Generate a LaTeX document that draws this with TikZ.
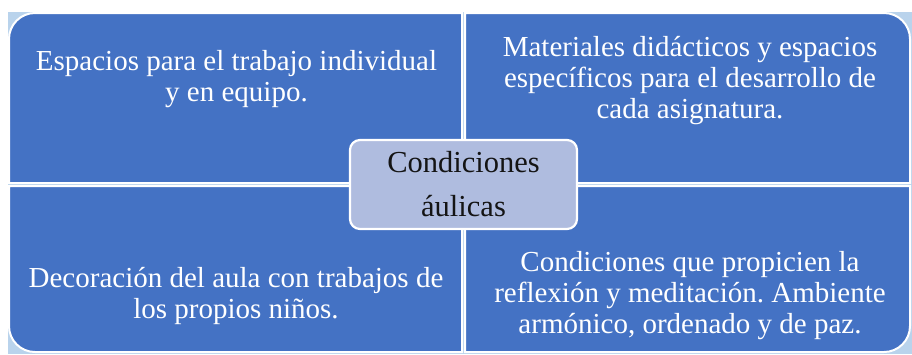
\documentclass[tikz,border=0pt]{standalone}
\usepackage{fontspec}
\setmainfont{Liberation Serif}
\frenchspacing
\definecolor{quadblue}{HTML}{4472C4}
\definecolor{centerfill}{HTML}{AFBCDF}
\definecolor{backlight}{HTML}{B9D3EC}
\definecolor{centertext}{HTML}{141414}
\begin{document}
\begin{tikzpicture}[x=1pt,y=-1pt,
  quad/.style={fill=quadblue,draw=white,line width=2pt},
  quadtext/.style={text=white,align=center,inner sep=0pt,font=\fontsize{29}{31}\selectfont},
  centerbox/.style={draw=white,line width=2.2pt,fill=centerfill,rounded corners=10pt,
    minimum width=227pt,minimum height=89pt,inner sep=0pt,align=center,text=centertext,
    font=\fontsize{30.5}{44}\selectfont}]
\useasboundingbox (0,0) rectangle (912,354);
\fill[backlight] (8,12) rectangle (912,354);
% quadrants
\path[quad] (462,183) -- (462,13) -- (35,13) arc[start angle=270,end angle=180,radius=26] -- (9,183) -- cycle;
\path[quad] (465,183) -- (465,13) -- (884,13) arc[start angle=270,end angle=360,radius=26] -- (910,183) -- cycle;
\path[quad] (462,186) -- (462,352) -- (35,352) arc[start angle=90,end angle=180,radius=26] -- (9,186) -- cycle;
\path[quad] (465,186) -- (465,352) -- (884,352) arc[start angle=90,end angle=0,radius=26] -- (910,186) -- cycle;
% texts
\node[quadtext] (tl) at (236.5,79.5) {Espacios para el trabajo individual\\y en equipo.};
\node[quadtext] (tr) at (690,80.5) {Materiales didácticos y espacios\\específicos para el desarrollo de\\cada asignatura.};
\node[quadtext] (bl) at (236,295.5) {Decoración del aula con trabajos de\\los propios niños.};
\node[quadtext] (br) at (690,295.5) {Condiciones que propicien la\\reflexión y meditación. Ambiente\\armónico, ordenado y de paz.};
% center
\node[centerbox] (center) at (463.5,184.5) {Condiciones\\áulicas};
\end{tikzpicture}
\end{document}
